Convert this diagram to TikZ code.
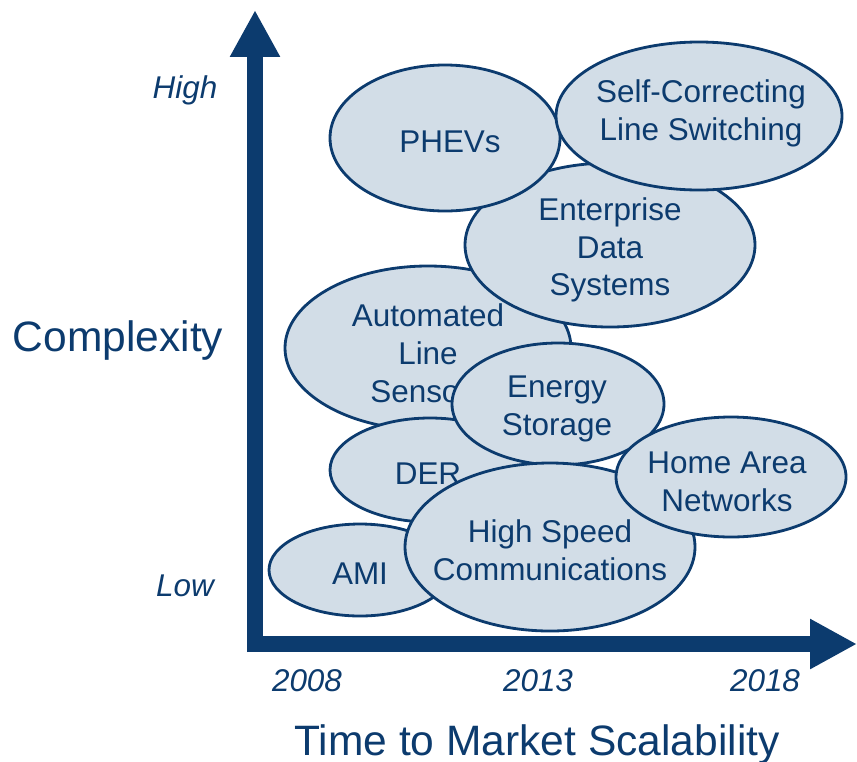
\documentclass[tikz,border=0pt]{standalone}
\usepackage{fontspec}
\setmainfont{Liberation Sans}
\usepackage{tikz}
\usetikzlibrary{arrows.meta}
\definecolor{navy}{HTML}{0C3B6E}
\definecolor{paleblue}{HTML}{D2DDE7}

\begin{document}
\begin{tikzpicture}[
  x=0.02cm, y=-0.02cm,
  bubble/.style={draw=navy, fill=paleblue, line width=1.6pt},
  txt/.style={text=navy, align=center, inner sep=0pt, font=\fontsize{17.9}{21.5}\selectfont},
  tick/.style={text=navy, inner sep=0pt, anchor=base, font=\fontsize{17.9}{21.5}\selectfont\itshape},
  title/.style={text=navy, inner sep=0pt, anchor=base, font=\fontsize{24.2}{28}\selectfont},
  axis/.style={navy, line width=0.32cm, -{Triangle[length=0.94cm, width=0.94cm]}}
]
\useasboundingbox (0,0) rectangle (857,761);

% ---- axes ----
\coordinate (orgy) at (255,652);
\coordinate (orgx) at (247,644);
\coordinate (ytip) at (255,10);
\coordinate (xtip) at (857,644);
\draw[axis] (orgy) -- (ytip);
\draw[axis] (orgx) -- (xtip);

\node[tick] (high) at (185,98) {High};
\node[tick] (low) at (185,596) {Low};
\node[tick] (y2008) at (307,691) {2008};
\node[tick] (y2013) at (538,691) {2013};
\node[tick] (y2018) at (765,691) {2018};
\node[title] (ylabel) at (118,351) {Complexity};
\node[title] (xlabel) at (537,755) {Time to Market Scalability};

% ---- bubbles, back to front ----
\path[bubble] (428,348) ellipse [x radius=143, y radius=82];
\node[txt] (als) at (428,353) {Automated\\Line\\Sensors};

\path[bubble] (430,470) ellipse [x radius=100, y radius=52];
\node[txt] (der) at (428,474) {DER};

\path[bubble] (610,245) ellipse [x radius=145, y radius=82];
\node[txt] (eds) at (610,250) {Enterprise\\Data\\Systems};

\path[bubble] (445,138) ellipse [x radius=115, y radius=73];
\node[txt] (phev) at (450,142) {PHEVs};

\path[bubble] (699,116) ellipse [x radius=143, y radius=74];
\node[txt] (sclx) at (701,113) {Self-Correcting\\Line Switching};

\path[bubble] (558,404) ellipse [x radius=106, y radius=61];
\node[txt] (stor) at (557,409) {Energy\\Storage};

\path[bubble] (360,570) ellipse [x radius=91, y radius=46];
\node[txt] (ami) at (360,574) {AMI};

\path[bubble] (550,547) ellipse [x radius=145, y radius=84];
\node[txt] (hsc) at (550,550) {High Speed\\Communications};

\path[bubble] (731,477) ellipse [x radius=115, y radius=60];
\node[txt] (han) at (727,482) {Home Area\\Networks};
\end{tikzpicture}
\end{document}
